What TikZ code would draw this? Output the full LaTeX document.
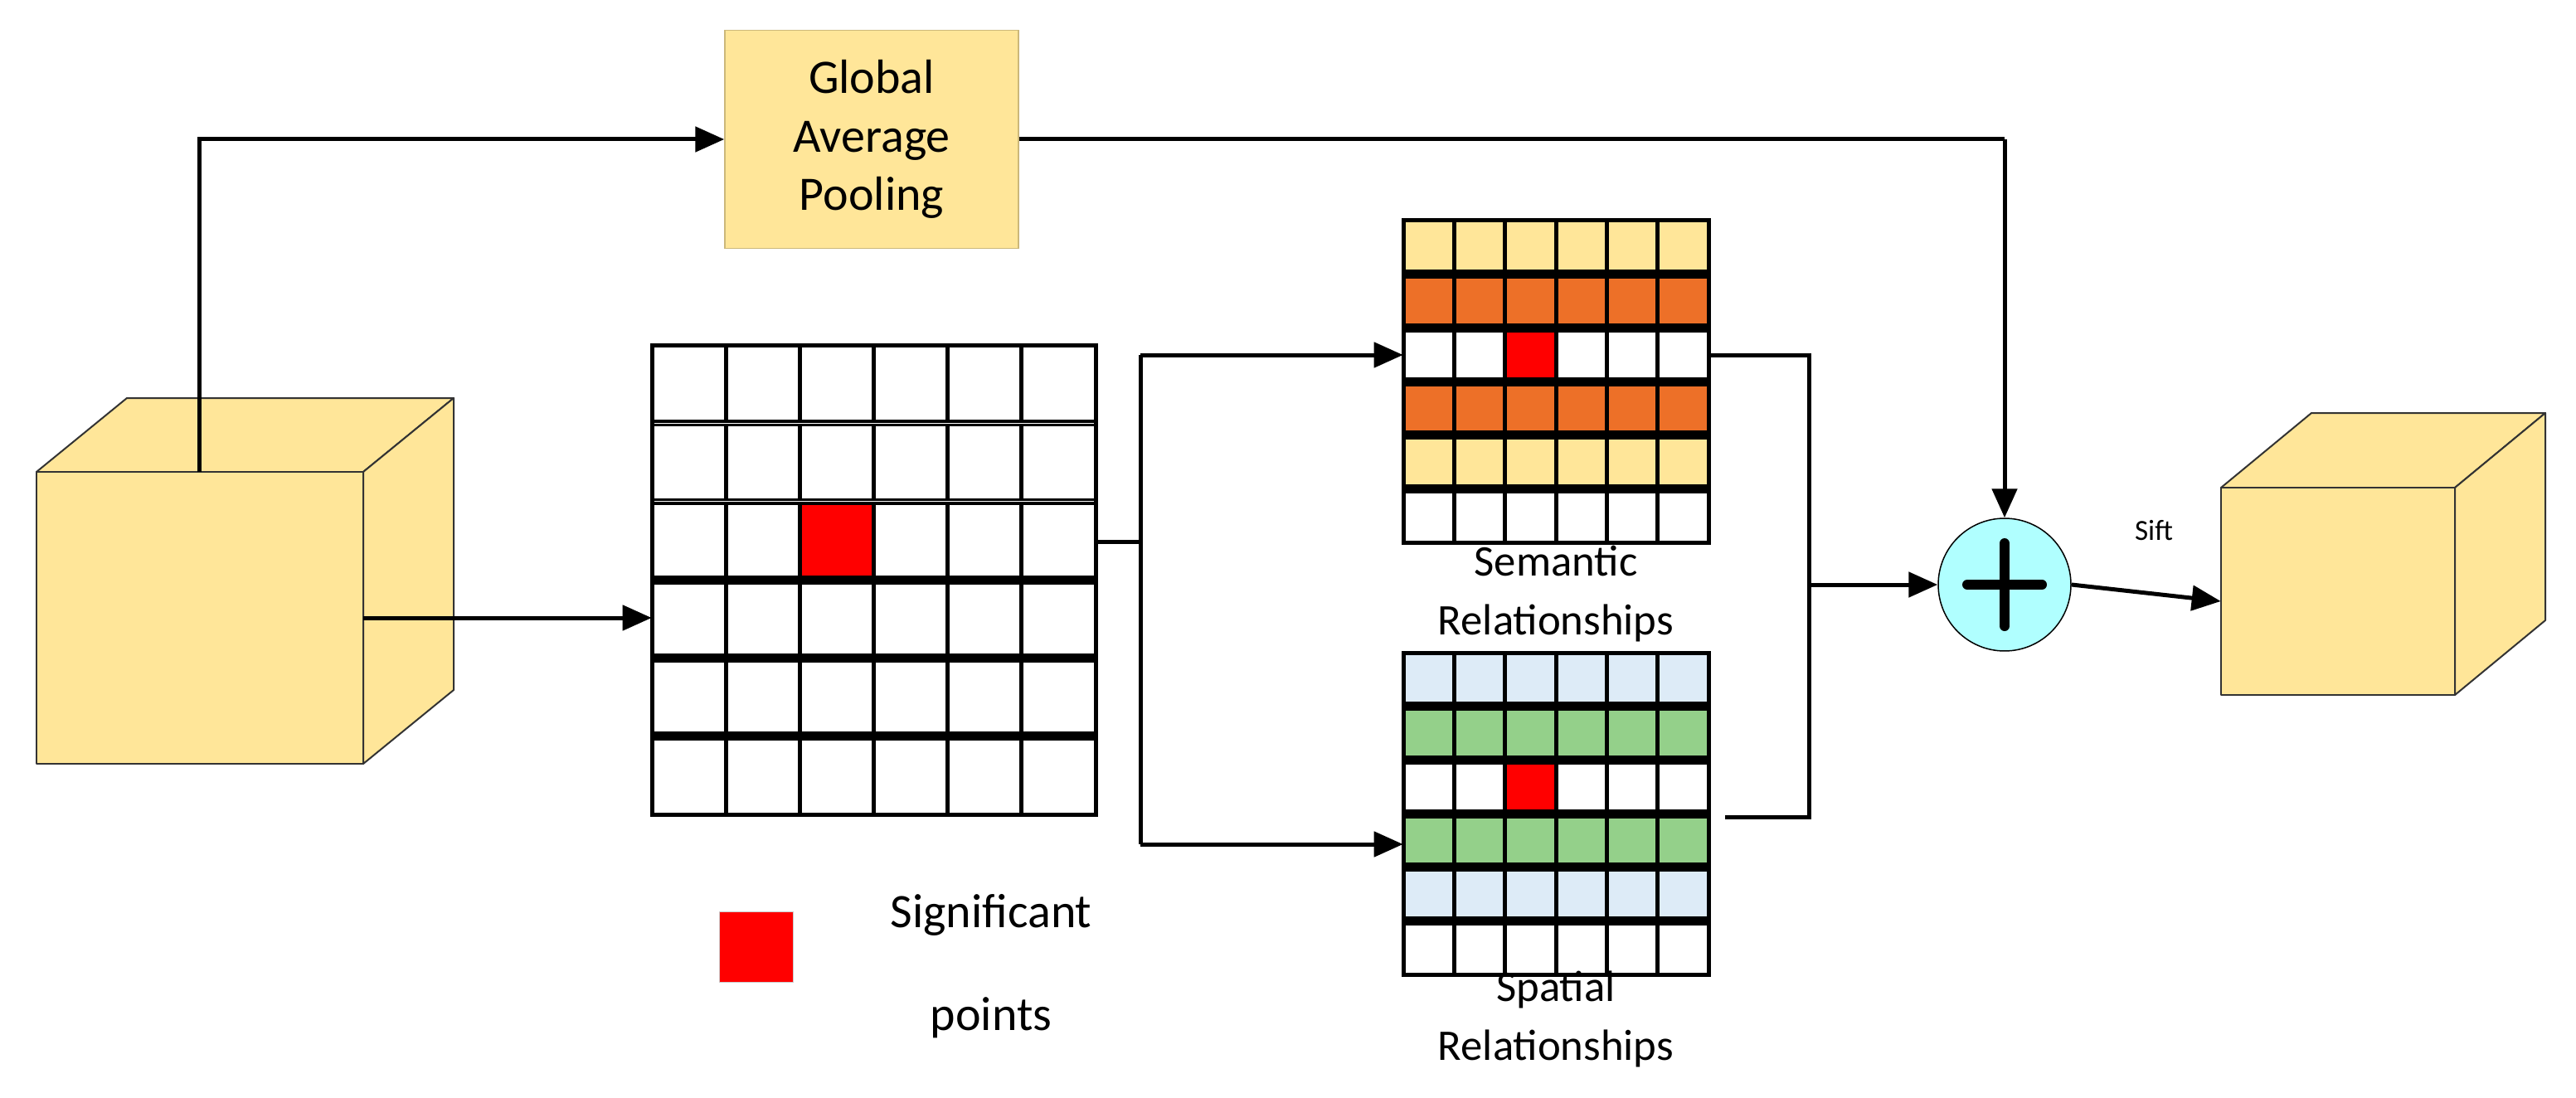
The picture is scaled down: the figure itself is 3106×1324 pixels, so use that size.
\documentclass[tikz,border=0pt]{standalone}
\usepackage{fontspec}
\setmainfont{Carlito}
\usetikzlibrary{arrows.meta}
\definecolor{cy}{HTML}{FFE699}
\definecolor{co}{HTML}{ED7028}
\definecolor{cb}{HTML}{DDEBF7}
\definecolor{cg}{HTML}{94D08A}
\definecolor{cc}{HTML}{B0FFFF}
\definecolor{cred}{HTML}{FF0000}
\tikzset{
 conn/.style={line width=0.1cm, -{Triangle[length=0.7cm,width=0.6cm]}},
 line/.style={line width=0.1cm},
 cube/.style={fill=cy, draw=black!80, line width=0.04cm, line join=round},
 lbl/.style={font=\fontsize{30}{40}\selectfont, align=center, inner sep=0},
}
\newcommand\colgrid[5]{% x0 y0 w h rowcolors
 \foreach \c [count=\r from 0] in {#5} \fill[\c] (#1,#2+\r*#4/6) rectangle ++(#3,#4/6);
 \fill[cred] (#1+2*#3/6,#2+2*#4/6) rectangle ++(#3/6,#4/6);
 \foreach \i in {1,...,5} \draw[line width=0.1cm] (#1+\i*#3/6,#2) -- ++(0,#4);
 \foreach \i in {1,...,5} \draw[line width=0.22cm] (#1,#2+\i*#4/6) -- ++(#3,0);
 \draw[line width=0.1cm] (#1,#2) rectangle ++(#3,#4);
}
\begin{document}
\begin{tikzpicture}[x=0.02cm,y=-0.02cm]
\useasboundingbox (0,0) rectangle (3106,1324);
% left cube
\fill[white] (0,0) rectangle (3106,1324);
\draw[cube] (44,569) -- (153,480) -- (547,480) -- (438,569) -- cycle;
\draw[cube] (438,569) -- (547,480) -- (547,832) -- (438,921) -- cycle;
\draw[cube] (44,569) rectangle (438,921);
\node[inner sep=0, minimum width=7.88cm, minimum height=7.04cm] (incube) at (241,745) {};
% right cube
\draw[cube] (2678,588) -- (2787,498) -- (3069,498) -- (2960,588) -- cycle;
\draw[cube] (2960,588) -- (3069,498) -- (3069,748) -- (2960,838) -- cycle;
\draw[cube] (2678,588) rectangle (2960,838);
\node[inner sep=0, minimum width=5.64cm, minimum height=5cm] (outcube) at (2819,713) {};
% GAP
\node[fill=cy, draw=cy!80!black, line width=0.03cm, minimum width=7.08cm, minimum height=5.26cm, lbl, font=\fontsize{33}{40}\selectfont] (gap) at (1051,168) {Global\\Average\\Pooling};
% main grid
\node[inner sep=0, minimum width=10.7cm, minimum height=11.32cm] (main) at (1053.5,699) {};
\fill[cred] (786+2*535/6,416+2*566/6) rectangle ++(535/6,566/6);
\foreach \i in {1,...,5} \draw[line width=0.1cm] (786+\i*535/6,416) -- ++(0,566);
\foreach \i in {1,2} \draw[line width=0.16cm] (786,416+\i*566/6) -- ++(535,0);
\foreach \i in {1,2} \draw[white, line width=0.03cm] (786,416+\i*566/6) -- ++(535,0);
\foreach \i in {3,4,5} \draw[line width=0.22cm] (786,416+\i*566/6) -- ++(535,0);
\draw[line width=0.1cm] (786,416) rectangle ++(535,566);
% semantic / spatial grids
\colgrid{1692}{266}{368}{388}{cy,co,white,co,cy,white}
\node[inner sep=0, minimum width=7.36cm, minimum height=7.76cm] (sem) at (1876,460) {};
\colgrid{1692}{787}{368}{388}{cb,cg,white,cg,cb,white}
\node[inner sep=0, minimum width=7.36cm, minimum height=7.76cm] (spa) at (1876,981) {};
\node[lbl] (semlbl) at (1876,716) {Semantic\\Relationships};
\node[lbl] (spalbl) at (1876,1229) {Spatial\\Relationships};
% sum node
\node[circle, fill=cc, draw=black, line width=0.03cm, minimum size=3.2cm, inner sep=0] (sum) at (2417,705) {};
\draw[line width=0.24cm, line cap=round] (sum.center) ++(0,-50) -- ++(0,100);
\draw[line width=0.24cm, line cap=round] (sum.center) ++(-45,0) -- ++(90,0);
\node[font=\fontsize{20}{24}\selectfont] (sift) at (2597,640) {Sift};
% legend
\node[fill=cred, draw=black!20, line width=0.02cm, minimum width=1.78cm, minimum height=1.7cm, inner sep=0] (leg) at (912,1142) {};
\node[lbl, font=\fontsize{33}{71}\selectfont] (legt) at (1195,1165) {Significant\\points};
% connectors
\coordinate (c1) at (240,569);
\draw[conn] (c1) |- (gap.west);
\coordinate (c2) at (2417,168);
\draw[line] (gap.east) -- (c2);
\draw[conn] (c2) -- (sum.north);
\coordinate (c3) at (438,745);
\draw[conn] (c3) -- (main.west |- c3);
\coordinate (m1) at (1321,653);
\coordinate (m2) at (1375,653);
\draw[line] (m1) -- (m2);
\coordinate (s1) at (1375,428);
\coordinate (s2) at (1375,1018);
\draw[line] (s1) -- (s2);
\draw[conn] (s1) -- (sem.west |- s1);
\draw[conn] (s2) -- (spa.west |- s2);
\coordinate (j1) at (2181,428);
\coordinate (j2) at (2181,985);
\coordinate (j3) at (2181,705);
\coordinate (o2) at (2080,985);
\draw[line] (sem.east |- j1) -- (j1) -- (j2) -- (o2);
\draw[conn] (j3) -- (sum.west);
\draw[conn] (sum.east) -- (outcube.west |- 0,725);
\end{tikzpicture}
\end{document}
